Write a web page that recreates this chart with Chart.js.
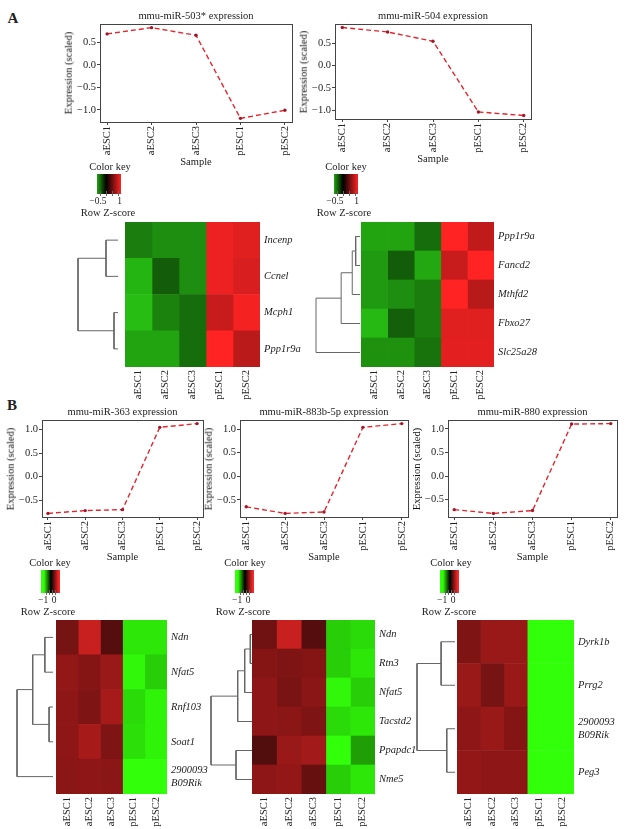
<!DOCTYPE html>
<html>
<head>
<meta charset="utf-8">
<script src="https://cdn.jsdelivr.net/npm/chart.js@4.4.0/dist/chart.umd.min.js"></script>
<style>
html, body { margin: 0; padding: 0; background: #fff; }
#fig { position: relative; width: 631px; height: 829px; overflow: hidden; font-family: "Liberation Serif", "DejaVu Serif", serif; color: #222; }
#fig canvas { position: absolute; }
.t { position: absolute; white-space: nowrap; font-size: 10.5px; line-height: 1; transform: translate(-50%, -50%); }
.v { transform: translate(-50%, -50%) rotate(-90deg); color: #111; }
.k { font-size: 9.5px; }
.big { font-weight: bold; font-size: 15px; }
.bar { position: absolute; }
.kt { position: absolute; width: 1px; background: #666; }
</style>
</head>
<body>
<div id="fig"></div>
<script>
const samples = ['aESC1', 'aESC2', 'aESC3', 'pESC1', 'pESC2'];

// scaled expression of each miRNA
const mir503 = [0.69, 0.83, 0.66, -1.19, -1.01];
const mir504 = [0.86, 0.76, 0.55, -1.04, -1.12];
const mir363 = [-0.78, -0.72, -0.70, 1.05, 1.13];
const mir883b = [-0.65, -0.79, -0.76, 1.04, 1.12];
const mir880 = [-0.71, -0.79, -0.73, 1.10, 1.11];
const yTicksA = [-1, -0.5, 0, 0.5];
const yTicksB = [-0.5, 0, 0.5, 1];

// heatmaps: row z-scores (rows = genes, columns = samples) and row clustering
const genesA1 = ['Incenp', 'Ccnel', 'Mcph1', 'Ppp1r9a'];
const zA1 = [
  [-0.61, -0.69, -0.69, 1.21, 1.14],
  [-0.88, -0.45, -0.69, 1.21, 1.10],
  [-0.92, -0.64, -0.53, 1.02, 1.25],
  [-0.80, -0.80, -0.53, 1.30, 0.95]
];
const mergeA1 = [[-1, -2], [-3, -4], [1, 2]];
const heightA1 = [12, 4, 40];

const genesA2 = ['Ppp1r9a', 'Fancd2', 'Mthfd2', 'Fbxo27', 'Slc25a28'];
const zA2 = [
  [-0.80, -0.80, -0.53, 1.30, 0.98],
  [-0.75, -0.45, -0.82, 1.02, 1.30],
  [-0.75, -0.69, -0.61, 1.30, 0.94],
  [-0.90, -0.47, -0.61, 1.14, 1.14],
  [-0.71, -0.71, -0.56, 1.16, 1.16]
];
const mergeA2 = [[-1, -2], [-3, 1], [-4, 2], [-5, 3]];
const heightA2 = [4.3, 7.7, 18.7, 43.7];

const genesB1 = ['Ndn', 'Nfat5', 'Rnf103', 'Soat1', ['2900093', 'B09Rik']];
const zB1 = [
  [0.38, 0.78, 0.22, -1.15, -1.15],
  [0.52, 0.45, 0.55, -1.22, -1.05],
  [0.50, 0.42, 0.62, -1.10, -1.20],
  [0.50, 0.62, 0.42, -1.12, -1.20],
  [0.48, 0.50, 0.48, -1.25, -1.25]
];
const mergeB1 = [[-1, -2], [-3, -4], [1, 2], [3, -5]];
const heightB1 = [8.3, 4, 20.7, 36.7];

const genesB2 = ['Ndn', 'Rtn3', 'Nfat5', 'Tacstd2', 'Ppapdc1', 'Nme5'];
const zB2 = [
  [0.35, 0.78, 0.22, -1.05, -1.10],
  [0.45, 0.42, 0.45, -1.05, -1.15],
  [0.50, 0.40, 0.48, -1.22, -1.05],
  [0.50, 0.48, 0.42, -1.10, -1.15],
  [0.20, 0.55, 0.60, -1.30, -0.85],
  [0.50, 0.52, 0.30, -1.05, -1.15]
];
const mergeB2 = [[-1, -2], [1, -3], [2, -4], [-5, -6], [3, 4]];
const heightB2 = [1.7, 7.3, 14.3, 16, 41];

const genesB3 = ['Dyrk1b', 'Prrg2', ['2900093', 'B09Rik'], 'Peg3'];
const zB3 = [
  [0.42, 0.55, 0.55, -1.25, -1.25],
  [0.55, 0.38, 0.55, -1.25, -1.25],
  [0.50, 0.55, 0.45, -1.25, -1.25],
  [0.52, 0.50, 0.50, -1.25, -1.25]
];
const mergeB3 = [[-1, -2], [-3, -4], [1, 2]];
const heightB3 = [14, 8.3, 38.3];

const keyRangeA = [-0.8, 1.3];
const keyTicksA = [-0.5, 0, 0.5, 1];
const keyLabelsA = [-0.5, 1];
const keyRangeB = [-1.7, 1.2];
const keyTicksB = [-1, -0.5, 0, 0.5];
const keyLabelsB = [-1, 0];

Chart.defaults.font.family = '"Liberation Serif", "DejaVu Serif", serif';
Chart.defaults.font.size = 10.5;
Chart.defaults.color = '#222';

const fig = document.getElementById('fig');
const rgb = (r, g, b) => `rgb(${Math.round(r)},${Math.round(g)},${Math.round(b)})`;
const fmt = v => (v < 0 ? '\u2212' : '') + Math.abs(v);

function colorA(z) {
  if (z < 0) { const f = Math.min(1, -z / 0.95); return rgb(40 * f, 195 * f, 20 * f); }
  const f = Math.min(1, z / 1.3); return rgb(255 * f, 35 * f, 35 * f);
}
function colorB(z) {
  if (z < -0.2) { const f = Math.min(1, (-0.2 - z) / 1.05); return rgb(50 * f, 255 * f, 10 * f); }
  const f = Math.min(1, (z + 0.2) / 1.25); return rgb(255 * f, 40 * f, 40 * f);
}

function makeCanvas(l, t, w, h) {
  const c = document.createElement('canvas');
  c.width = w; c.height = h;
  c.style.left = l + 'px'; c.style.top = t + 'px';
  c.style.width = w + 'px'; c.style.height = h + 'px';
  fig.appendChild(c);
  return c;
}
function text(s, x, y, cls) {
  const d = document.createElement('div');
  d.className = 't ' + (cls || '');
  d.textContent = s;
  d.style.left = x + 'px'; d.style.top = y + 'px';
  fig.appendChild(d);
}
// drop the label overhang padding so the plot area sits exactly where asked
function noPad(s) { s.paddingTop = s.paddingBottom = s.paddingLeft = s.paddingRight = 0; }

const boxPlugin = {
  id: 'box',
  afterDraw(ch) {
    const a = ch.chartArea, g = ch.ctx;
    g.save();
    g.strokeStyle = '#444'; g.lineWidth = 1;
    g.strokeRect(Math.round(a.left) + 0.5, Math.round(a.top) + 0.5, Math.round(a.right - a.left), Math.round(a.bottom - a.top));
    g.restore();
  }
};

function lineChart(title, values, ticks, box) {
  const lo = Math.min(...values), hi = Math.max(...values), ext = (hi - lo) * 0.04;
  const padT = 10, padR = 8, yw = 40, xh = 45;
  const c = makeCanvas(box.left - yw, box.top - padT, yw + box.right - box.left + padR, padT + box.bottom - box.top + xh);
  const grid = { drawOnChartArea: false, drawTicks: true, tickLength: 3, color: '#444' };
  new Chart(c, {
    type: 'line',
    data: {
      datasets: [{
        data: values.map((v, i) => ({ x: i, y: v })),
        borderColor: '#e3262d', borderWidth: 1.4, borderDash: [5, 3],
        pointRadius: 1.7, pointBackgroundColor: '#a3172a', pointBorderWidth: 0,
        tension: 0, fill: false
      }]
    },
    options: {
      responsive: false, animation: false,
      layout: { padding: { top: padT, right: padR, left: 0, bottom: 0 } },
      plugins: { legend: { display: false }, tooltip: { enabled: false } },
      scales: {
        x: {
          type: 'linear', min: -0.16, max: samples.length - 1 + 0.16,
          grid, border: { display: false },
          afterBuildTicks: s => { s.ticks = samples.map((_, i) => ({ value: i })); },
          afterFit: s => { s.height = xh; noPad(s); },
          ticks: { autoSkip: false, minRotation: 90, maxRotation: 90, padding: 1, callback: (v, i) => samples[i] }
        },
        y: {
          min: lo - ext, max: hi + ext,
          grid, border: { display: false },
          afterBuildTicks: s => { s.ticks = ticks.map(v => ({ value: v })); },
          afterFit: s => { s.width = yw; noPad(s); },
          ticks: { padding: 1, callback: v => (v < 0 ? '\u2212' : '') + Math.abs(v).toFixed(1) }
        }
      }
    },
    plugins: [boxPlugin]
  });
  const cx = (box.left + box.right) / 2;
  text(title, cx, box.top - 8);
  text('Expression (scaled)', box.left - 31, (box.top + box.bottom) / 2, 'v');
  text('Sample', cx, box.bottom + 40);
}

function heatmap(genes, z, color, box) {
  const yw = 62, xh = 45;
  const c = makeCanvas(box.left, box.top, box.right - box.left + yw, box.bottom - box.top + xh);
  new Chart(c, {
    type: 'bar',
    data: {
      labels: genes,
      datasets: samples.map((s, j) => ({
        label: s,
        data: genes.map(() => 1),
        backgroundColor: z.map(r => color(r[j])),
        borderWidth: 0, barPercentage: 1, categoryPercentage: 1
      }))
    },
    options: {
      indexAxis: 'y', responsive: false, animation: false,
      layout: { padding: 0 },
      plugins: { legend: { display: false }, tooltip: { enabled: false } },
      scales: {
        x: {
          stacked: true, min: 0, max: samples.length,
          grid: { display: false, drawTicks: false }, border: { display: false },
          afterBuildTicks: s => { s.ticks = samples.map((_, i) => ({ value: i + 0.5 })); },
          afterFit: s => { s.height = xh; noPad(s); },
          ticks: { autoSkip: false, minRotation: 90, maxRotation: 90, padding: 3, callback: (v, i) => samples[i] }
        },
        y: {
          stacked: true, position: 'right',
          grid: { display: false, drawTicks: false }, border: { display: false },
          afterFit: s => { s.width = yw; noPad(s); },
          ticks: { padding: 4, font: { style: 'italic' } }
        }
      }
    }
  });
}

function dendrogram(merge, heights, n, rootX, leafX, top, bottom) {
  const pos = [];
  const node = k => k < 0 ? { x: 0, y: -k - 0.5 } : pos[k - 1];
  const segs = merge.map(([a, b], i) => {
    const A = node(a), B = node(b), h = heights[i];
    pos.push({ x: h, y: (A.y + B.y) / 2 });
    return [{ x: A.x, y: A.y }, { x: h, y: A.y }, { x: h, y: B.y }, { x: B.x, y: B.y }];
  });
  const c = makeCanvas(rootX - 2, top, leafX - rootX + 2, bottom - top);
  new Chart(c, {
    type: 'scatter',
    data: {
      datasets: segs.map(s => ({ data: s, showLine: true, borderColor: '#666', borderWidth: 1, pointRadius: 0, clip: false }))
    },
    options: {
      responsive: false, animation: false,
      layout: { padding: { left: 2, right: 0, top: 0, bottom: 0 } },
      plugins: { legend: { display: false }, tooltip: { enabled: false } },
      scales: {
        x: { type: 'linear', min: 0, max: Math.max(...heights), reverse: true, display: false },
        y: { type: 'linear', min: 0, max: n, reverse: true, display: false }
      }
    }
  });
}

function colorKey(range, color, tickVals, labelVals, bar, cx) {
  const [lo, hi] = range;
  const stops = [];
  for (let i = 0; i <= 24; i++) {
    const v = lo + (hi - lo) * i / 24;
    stops.push(color(v) + ' ' + (i / 24 * 100).toFixed(1) + '%');
  }
  const d = document.createElement('div');
  d.className = 'bar';
  Object.assign(d.style, {
    left: bar.left + 'px', top: bar.top + 'px',
    width: (bar.right - bar.left) + 'px', height: (bar.bottom - bar.top) + 'px',
    background: 'linear-gradient(to right, ' + stops.join(', ') + ')'
  });
  fig.appendChild(d);
  const px = v => bar.left + (v - lo) / (hi - lo) * (bar.right - bar.left);
  tickVals.forEach(v => {
    const t = document.createElement('div');
    t.className = 'kt';
    Object.assign(t.style, { left: Math.round(px(v)) + 'px', top: (bar.bottom - 3) + 'px', height: '5px' });
    fig.appendChild(t);
  });
  // minus sign pushes negative labels a little to the left, as R does
  labelVals.forEach(v => text(fmt(v), px(v) - (v < 0 ? 2.5 : -2), bar.bottom + 8, 'k'));
  text('Color key', cx, bar.top - 7);
  text('Row Z-score', cx - 2, bar.bottom + 19);
}

// panel A
text('A', 13, 18, 'big');
lineChart('mmu-miR-503* expression', mir503, yTicksA, { left: 100, top: 24, right: 292, bottom: 122 });
lineChart('mmu-miR-504 expression', mir504, yTicksA, { left: 335, top: 24, right: 531, bottom: 119 });
colorKey(keyRangeA, colorA, keyTicksA, keyLabelsA, { left: 97, top: 174, right: 121, bottom: 194 }, 110);
colorKey(keyRangeA, colorA, keyTicksA, keyLabelsA, { left: 334, top: 174, right: 358, bottom: 194 }, 346);
heatmap(genesA1, zA1, colorA, { left: 125, top: 222, right: 260, bottom: 367 });
heatmap(genesA2, zA2, colorA, { left: 361, top: 222, right: 494, bottom: 367 });
dendrogram(mergeA1, heightA1, genesA1.length, 78, 118, 222, 367);
dendrogram(mergeA2, heightA2, genesA2.length, 316, 360, 222, 367);

// panel B
text('B', 12, 405, 'big');
lineChart('mmu-miR-363 expression', mir363, yTicksB, { left: 42, top: 420, right: 203, bottom: 517 });
lineChart('mmu-miR-883b-5p expression', mir883b, yTicksB, { left: 240, top: 420, right: 408, bottom: 517 });
lineChart('mmu-miR-880 expression', mir880, yTicksB, { left: 448, top: 420, right: 617, bottom: 517 });
colorKey(keyRangeB, colorB, keyTicksB, keyLabelsB, { left: 41, top: 570, right: 60, bottom: 593 }, 50);
colorKey(keyRangeB, colorB, keyTicksB, keyLabelsB, { left: 235, top: 570, right: 254, bottom: 593 }, 245);
colorKey(keyRangeB, colorB, keyTicksB, keyLabelsB, { left: 440, top: 570, right: 459, bottom: 593 }, 451);
heatmap(genesB1, zB1, colorB, { left: 56, top: 620, right: 167, bottom: 794 });
heatmap(genesB2, zB2, colorB, { left: 252, top: 620, right: 375, bottom: 794 });
heatmap(genesB3, zB3, colorB, { left: 457, top: 620, right: 574, bottom: 794 });
dendrogram(mergeB1, heightB1, genesB1.length, 17, 53, 620, 794);
dendrogram(mergeB2, heightB2, genesB2.length, 211, 252, 620, 794);
dendrogram(mergeB3, heightB3, genesB3.length, 417, 455, 620, 794);
</script>
</body>
</html>
